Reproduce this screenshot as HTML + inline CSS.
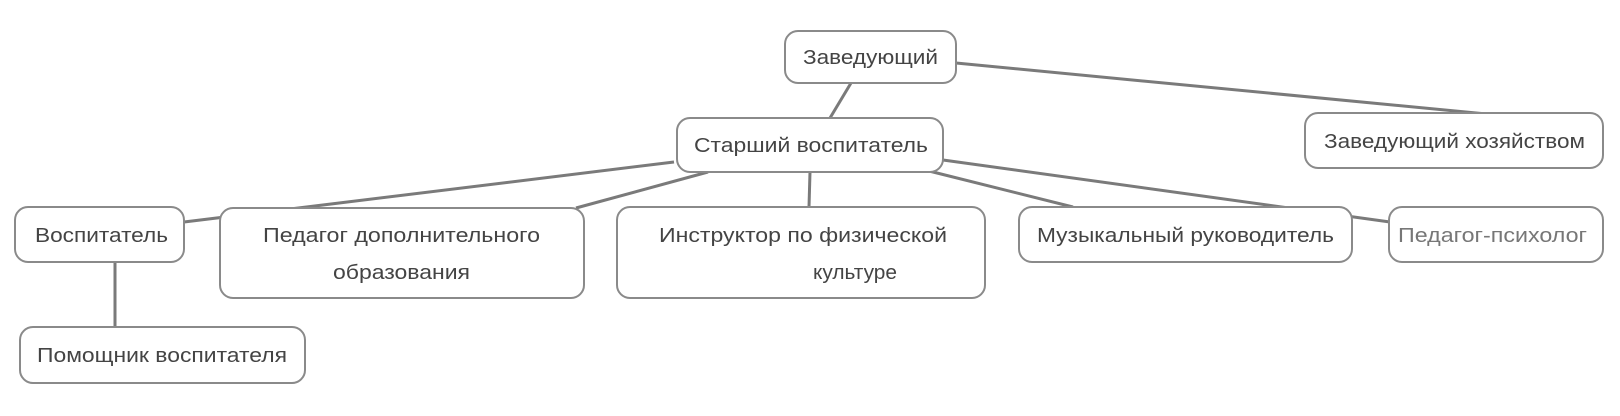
<!DOCTYPE html>
<html><head><meta charset="utf-8"><style>html,body{margin:0;padding:0;background:#fff;}svg{display:block}</style></head>
<body>
<svg width="1620" height="416" viewBox="0 0 1620 416" xmlns="http://www.w3.org/2000/svg" font-family="'Liberation Sans', sans-serif" font-size="20">
<g stroke="#7a7a7a" stroke-width="3" fill="none">
<line x1="956" y1="63" x2="1497" y2="115"/>
<line x1="851" y1="83" x2="830" y2="118"/>
<line x1="674" y1="162" x2="184" y2="222"/>
<line x1="708" y1="172" x2="576" y2="208"/>
<line x1="810" y1="172" x2="809" y2="207"/>
<line x1="929" y1="171" x2="1073" y2="207"/>
<line x1="943" y1="160" x2="1390" y2="222"/>
<line x1="115" y1="262" x2="115" y2="327"/>
</g>
<g stroke="#8a8a8a" stroke-width="2" fill="#fff">
<rect x="785" y="31" width="171" height="52" rx="13"/>
<rect x="677" y="118" width="266" height="54" rx="13"/>
<rect x="1305" y="113" width="298" height="55" rx="13"/>
<rect x="15" y="207" width="169" height="55" rx="13"/>
<rect x="220" y="208" width="364" height="90" rx="13"/>
<rect x="617" y="207" width="368" height="91" rx="13"/>
<rect x="1019" y="207" width="333" height="55" rx="13"/>
<rect x="1389" y="207" width="214" height="55" rx="13"/>
<rect x="20" y="327" width="285" height="56" rx="13"/>
</g>
<g fill="#444">
<text x="803" y="64" textLength="135" lengthAdjust="spacingAndGlyphs">Заведующий</text>
<text x="694" y="152" textLength="234" lengthAdjust="spacingAndGlyphs">Старший воспитатель</text>
<text x="1324" y="148" textLength="261" lengthAdjust="spacingAndGlyphs">Заведующий хозяйством</text>
<text x="35" y="242" textLength="133" lengthAdjust="spacingAndGlyphs">Воспитатель</text>
<text x="263" y="242" textLength="277" lengthAdjust="spacingAndGlyphs">Педагог дополнительного</text>
<text x="333" y="279" textLength="137" lengthAdjust="spacingAndGlyphs">образования</text>
<text x="659" y="242" textLength="288" lengthAdjust="spacingAndGlyphs">Инструктор по физической</text>
<text x="813" y="279" textLength="84" lengthAdjust="spacingAndGlyphs">культуре</text>
<text x="1037" y="242" textLength="297" lengthAdjust="spacingAndGlyphs">Музыкальный руководитель</text>
<text x="1398" y="242" textLength="189" lengthAdjust="spacingAndGlyphs" fill="#777">Педагог-психолог</text>
<text x="37" y="362" textLength="250" lengthAdjust="spacingAndGlyphs">Помощник воспитателя</text>
</g>
</svg>
</body></html>
